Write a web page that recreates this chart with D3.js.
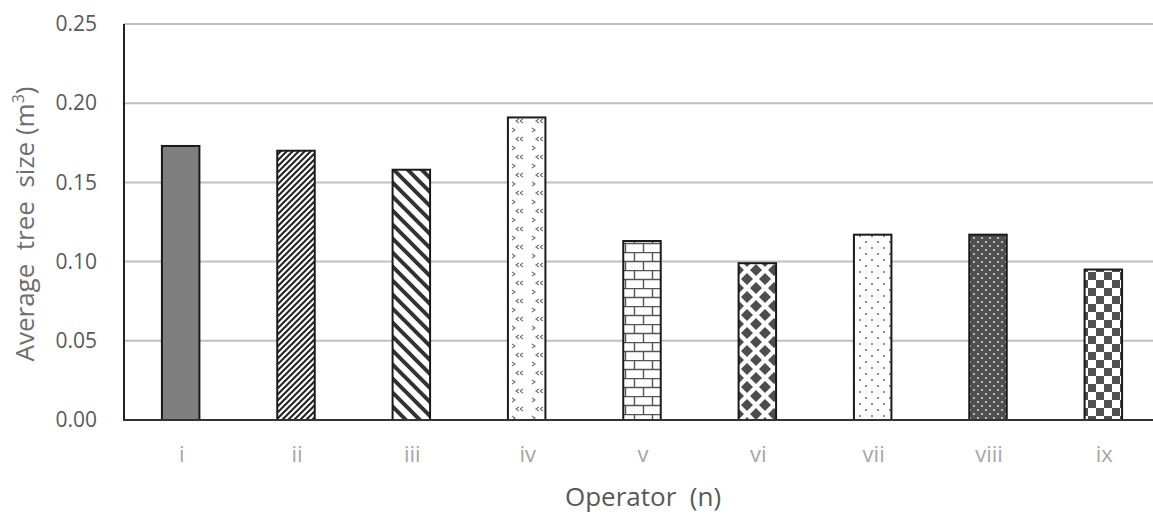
<!DOCTYPE html>
<html lang="en">
<head>
<meta charset="utf-8">
<title>Average tree size by operator</title>
<script src="https://d3js.org/d3.v7.min.js"></script>
<style>
  body { margin: 0; background: #fff; }
  text { font-family: "Open Sans", "DejaVu Sans", sans-serif; }
</style>
</head>
<body>
<script>
// data
var operators = ["i", "ii", "iii", "iv", "v", "vi", "vii", "viii", "ix"];
var treeSize = [0.173, 0.170, 0.158, 0.191, 0.113, 0.099, 0.117, 0.117, 0.095];
var yTicks = [0, 0.05, 0.10, 0.15, 0.20, 0.25];
var patternIds = ["solid", "thinDiag", "wideDiag", "chevron", "brick", "diamond", "sparseDot", "darkDot", "checker"];

var w = 1153, h = 515;
var mLeft = 124, mRight = 1162, mTop = 24, mBottom = 420;

var svg = d3.select("body").append("svg")
  .attr("width", w).attr("height", h);

var defs = svg.append("defs");

// patterns
function pat(id, pw, ph, bg) {
  var p = defs.append("pattern").attr("id", id)
    .attr("patternUnits", "userSpaceOnUse")
    .attr("width", pw).attr("height", ph);
  p.append("rect").attr("width", pw).attr("height", ph).attr("fill", bg);
  return p;
}

pat("solid", 10, 10, "#7f7f7f");

var p2 = pat("thinDiag", 6, 6, "#fff");
p2.append("path").attr("d", "M-1,7 L7,-1 M-1,1 L1,-1 M5,7 L7,5")
  .attr("stroke", "#222").attr("stroke-width", 2);

var p3 = pat("wideDiag", 14, 14, "#fff");
p3.append("path").attr("d", "M-2,-2 L16,16 M-2,12 L2,16 M12,-2 L16,2")
  .attr("stroke", "#333").attr("stroke-width", 4);

var p4 = pat("chevron", 20, 18, "#fff");
p4.append("path").attr("d", "M12,2 L15,4 L12,6 M3,11 L0,13 L3,15 M19,11 L16,13 L19,15")
  .attr("stroke", "#777").attr("stroke-width", 1.2).attr("fill", "none");

var p5 = pat("brick", 18, 18, "#fff");
p5.append("path").attr("d", "M0,0.5 L18,0.5 M0,9.5 L18,9.5 M4.5,0 L4.5,9 M13.5,9 L13.5,18")
  .attr("stroke", "#555").attr("stroke-width", 1.4);

var p6 = pat("diamond", 18, 18, "#fff");
p6.append("path").attr("d", "M9,3 L15,9 L9,15 L3,9 Z").attr("fill", "#4d4d4d");
p6.append("path").attr("d", "M0,-6 L6,0 L0,6 L-6,0 Z M18,-6 L24,0 L18,6 L12,0 Z M0,12 L6,18 L0,24 L-6,18 Z M18,12 L24,18 L18,24 L12,18 Z")
  .attr("fill", "#4d4d4d");

var p7 = pat("sparseDot", 12, 12, "#fff");
p7.append("circle").attr("cx", 2).attr("cy", 2).attr("r", 1).attr("fill", "#666");
p7.append("circle").attr("cx", 8).attr("cy", 8).attr("r", 1).attr("fill", "#666");

var p8 = pat("darkDot", 8, 8, "#505050");
p8.append("circle").attr("cx", 2).attr("cy", 2).attr("r", 1).attr("fill", "#ddd");
p8.append("circle").attr("cx", 6).attr("cy", 6).attr("r", 1).attr("fill", "#ddd");

var p9 = pat("checker", 16, 16, "#fff");
p9.append("rect").attr("width", 8).attr("height", 8).attr("fill", "#505050");
p9.append("rect").attr("x", 8).attr("y", 8).attr("width", 8).attr("height", 8).attr("fill", "#505050");

// scales
var x = d3.scaleBand().domain(operators).range([mLeft, mRight]).paddingInner(0.675).paddingOuter(0.3375);
var y = d3.scaleLinear().domain([0, 0.25]).range([mBottom, mTop]);

// gridlines
svg.append("g").selectAll("line")
  .data(yTicks.filter(function(d) { return d > 0; }))
  .enter().append("line")
  .attr("x1", mLeft).attr("x2", w)
  .attr("y1", function(d) { return y(d); })
  .attr("y2", function(d) { return y(d); })
  .attr("stroke", "#bfbfbf").attr("stroke-width", 2);

// bars
svg.append("g").selectAll("rect")
  .data(treeSize)
  .enter().append("rect")
  .attr("x", function(d, i) { return x(operators[i]) - 1; })
  .attr("y", function(d) { return y(d); })
  .attr("width", x.bandwidth())
  .attr("height", function(d) { return mBottom - y(d); })
  .attr("fill", function(d, i) { return "url(#" + patternIds[i] + ")"; })
  .attr("stroke", "#1a1a1a").attr("stroke-width", 2);

// axes lines
svg.append("line").attr("x1", mLeft).attr("x2", mLeft).attr("y1", mTop).attr("y2", mBottom)
  .attr("stroke", "#222").attr("stroke-width", 2);
svg.append("line").attr("x1", mLeft - 1).attr("x2", w).attr("y1", mBottom).attr("y2", mBottom)
  .attr("stroke", "#333").attr("stroke-width", 2);

// y tick labels
var yAxis = d3.axisLeft(y).tickValues(yTicks).tickFormat(d3.format(".2f")).tickSize(0).tickPadding(27);
var ga = svg.append("g").attr("transform", "translate(" + mLeft + ",0)").call(yAxis);
ga.select(".domain").remove();
ga.selectAll("text").attr("font-size", 21).attr("fill", "#595959")
  .style("font-family", "'Open Sans', sans-serif");

// x tick labels
var xAxis = d3.axisBottom(x).tickSize(0).tickPadding(26);
var gx = svg.append("g").attr("transform", "translate(0," + mBottom + ")").call(xAxis);
gx.select(".domain").remove();
gx.selectAll("text").attr("font-size", 22).attr("fill", "#a6a6a6")
  .style("font-family", "'Open Sans', sans-serif");

// axis titles
svg.append("text")
  .attr("x", 643).attr("y", 506)
  .attr("text-anchor", "middle")
  .attr("font-size", 26).attr("fill", "#595959")
  .attr("xml:space", "preserve")
  .text("Operator  (n)");

var yt = svg.append("text")
  .attr("transform", "translate(34,224) rotate(-90)")
  .attr("text-anchor", "middle")
  .attr("font-size", 26).attr("fill", "#6e6e6e")
  .attr("xml:space", "preserve");
yt.append("tspan").text("Average  tree  size (m");
yt.append("tspan").attr("font-size", 16).attr("dy", -10).text("3");
yt.append("tspan").attr("dy", 10).text(")");
</script>
</body>
</html>
